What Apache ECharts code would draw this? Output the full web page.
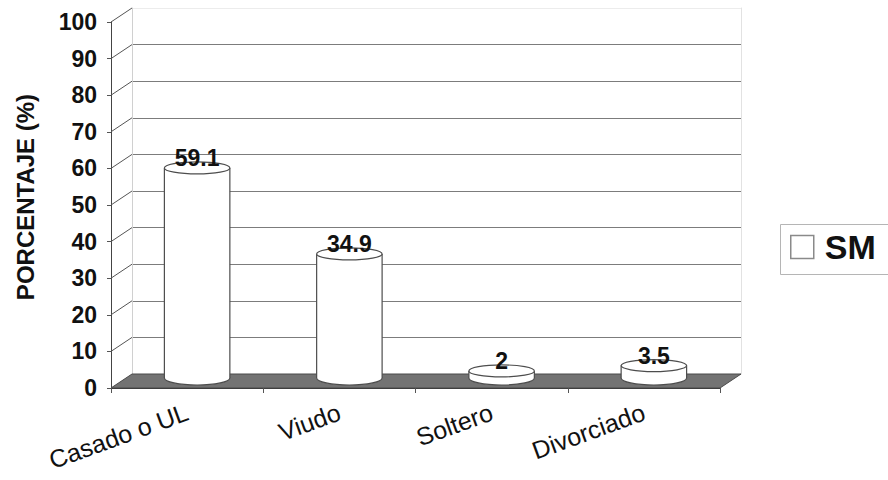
<!DOCTYPE html>
<html>
<head>
<meta charset="utf-8">
<script src="https://cdn.jsdelivr.net/npm/echarts@6/dist/echarts.min.js"></script>
<style>
  html, body { margin: 0; padding: 0; background: #fff; }
  #chart { width: 888px; height: 480px; }
</style>
</head>
<body>
<div id="chart"></div>
<script>
// Marital status distribution (percentages)
const categories = ['Casado o UL', 'Viudo', 'Soltero', 'Divorciado'];
const smValues = [59.1, 34.9, 2, 3.5];
// value levels where the side wall is joined to the front axis
const wallTicks = [10, 20, 30, 40, 50, 60, 70, 80, 90, 100];

// perspective shift from the front plane to the back wall
const DEPTH_X = 21;
const DEPTH_Y = -14;
const FONT = '"Liberation Sans", Arial, sans-serif';

const chart = echarts.init(document.getElementById('chart'), null, { renderer: 'svg' });

const wallColors = ['#7c7c7c', '#7c7c7c', '#7c7c7c', '#7c7c7c', '#7c7c7c', '#7c7c7c',
                    '#7c7c7c', '#7c7c7c', '#7c7c7c', '#7c7c7c', '#ececec'];

const option = {
  animation: false,
  backgroundColor: '#fff',
  grid: [
    { left: 111, right: 168, top: 22, bottom: 92 },     // front plane
    { left: 132, right: 147, top: 8, bottom: 106 },     // back wall
    { left: 121, right: 158, top: 22.5, bottom: 102 }   // cylinder depth
  ],
  // legend frame runs off the right edge of the page
  graphic: [{
    type: 'rect', left: 778, top: 222, z: 10,
    shape: { width: 140, height: 50 },
    style: { fill: 'none', stroke: '#b5b5b5', lineWidth: 1 }
  }],
  legend: {
    data: [{ name: 'SM', icon: 'rect' }],
    left: 778,
    top: 222,
    orient: 'vertical',
    padding: [8, 10, 8, 12],
    itemWidth: 23,
    itemHeight: 23,
    itemStyle: { color: '#fff', borderColor: '#8a8a8a', borderWidth: 1.5 },
    textStyle: { fontFamily: FONT, fontSize: 34, fontWeight: 'bold', color: '#111',
                 lineHeight: 34, padding: [0, 0, 0, 6] },
    selectedMode: false
  },
  xAxis: [
    {
      type: 'category', gridIndex: 0, data: categories,
      axisLine: { show: true, lineStyle: { color: '#333', width: 1 } },
      axisTick: { show: true, length: 5, lineStyle: { color: '#555' } },
      axisLabel: { rotate: 20, margin: 23, fontSize: 25, color: '#111', fontFamily: FONT },
      splitLine: { show: false }
    },
    { type: 'category', gridIndex: 1, data: categories, show: false },
    { type: 'category', gridIndex: 2, data: categories, show: false }
  ],
  yAxis: [
    {
      type: 'value', gridIndex: 0, min: 0, max: 100, interval: 10,
      name: 'PORCENTAJE (%)', nameLocation: 'middle', nameGap: 74, nameRotate: 90,
      nameTextStyle: { fontFamily: FONT, fontSize: 24, fontWeight: 'bold', color: '#111',
                       padding: [0, 0, 0, 16] },
      axisLine: { show: true, lineStyle: { color: '#444', width: 1 } },
      axisTick: { show: true, length: 4, lineStyle: { color: '#555' } },
      axisLabel: { margin: 14, fontSize: 23, fontWeight: 'bold', color: '#111', fontFamily: FONT },
      splitLine: { show: false }
    },
    {
      type: 'value', gridIndex: 1, min: 0, max: 100, interval: 10,
      axisLine: { show: true, lineStyle: { color: '#d0d0d0' } },
      axisTick: { show: false }, axisLabel: { show: false },
      splitLine: { show: true, lineStyle: { color: wallColors, width: 1 } }
    },
    {
      type: 'value', gridIndex: 1, min: 0, max: 100, position: 'right',
      axisLine: { show: true, lineStyle: { color: '#e2e2e2' } },
      axisTick: { show: false }, axisLabel: { show: false }, splitLine: { show: false }
    },
    { type: 'value', gridIndex: 2, min: 0, max: 100, show: false }
  ],
  series: [
    {
      // floor of the 3D plot
      type: 'custom', name: 'floor', xAxisIndex: 0, yAxisIndex: 0, z: 1,
      data: [[0, 0]],
      renderItem: function (params, api) {
        const cs = params.coordSys;
        const y0 = api.coord([0, 0])[1];
        return {
          type: 'polygon',
          shape: { points: [
            [cs.x, y0], [cs.x + DEPTH_X, y0 + DEPTH_Y],
            [cs.x + cs.width + DEPTH_X, y0 + DEPTH_Y], [cs.x + cs.width, y0]
          ] },
          style: { fill: '#737373', stroke: '#4a4a4a', lineWidth: 1 }
        };
      }
    },
    {
      // slanted joins between the front value axis and the back wall
      type: 'custom', name: 'joins', xAxisIndex: 0, yAxisIndex: 0, z: 1,
      data: wallTicks.map(function (v) { return [0, v]; }),
      renderItem: function (params, api) {
        const cs = params.coordSys;
        const y = api.coord([0, api.value(1)])[1];
        return {
          type: 'line',
          shape: { x1: cs.x, y1: y, x2: cs.x + DEPTH_X, y2: y + DEPTH_Y },
          style: { stroke: '#555', lineWidth: 1 }
        };
      }
    },
    {
      // cylinder columns
      type: 'custom', name: 'SM', xAxisIndex: 2, yAxisIndex: 3, z: 3,
      itemStyle: { color: '#fff' },
      data: smValues.map(function (v, i) { return [i, v]; }),
      renderItem: function (params, api) {
        const base = api.coord([api.value(0), 0]);
        const top = api.coord([api.value(0), api.value(1)]);
        const rx = api.size([1, 0])[0] * 0.43 / 2;
        const ryTop = 6, ryBottom = 7;
        const cx = base[0];
        const stroke = '#4d4d4d';
        return {
          type: 'group',
          children: [
            { type: 'ellipse', shape: { cx: cx, cy: base[1], rx: rx, ry: ryBottom },
              style: { fill: '#fff', stroke: stroke, lineWidth: 1.2 } },
            { type: 'rect', shape: { x: cx - rx, y: top[1], width: rx * 2, height: base[1] - top[1] },
              style: { fill: '#fff', stroke: null } },
            { type: 'line', shape: { x1: cx - rx, y1: top[1], x2: cx - rx, y2: base[1] },
              style: { stroke: stroke, lineWidth: 1.2 } },
            { type: 'line', shape: { x1: cx + rx, y1: top[1], x2: cx + rx, y2: base[1] },
              style: { stroke: stroke, lineWidth: 1.2 } },
            { type: 'ellipse', shape: { cx: cx, cy: top[1], rx: rx, ry: ryTop },
              style: { fill: '#fff', stroke: stroke, lineWidth: 1.2 } },
            { type: 'text', x: cx, y: top[1] - 10,
              style: { text: String(api.value(1)), fill: '#111', fontFamily: FONT,
                       fontSize: 23, fontWeight: 'bold', align: 'center', verticalAlign: 'middle' } }
          ]
        };
      }
    }
  ]
};

chart.setOption(option);
</script>
</body>
</html>
